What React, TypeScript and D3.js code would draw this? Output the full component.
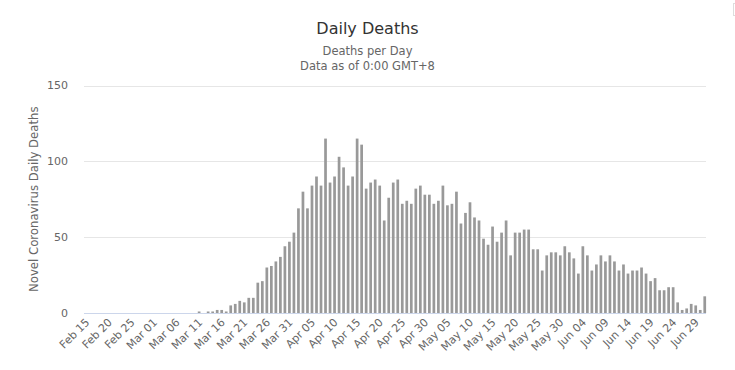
import React from "react";
import * as d3 from "d3";

// Categories: one per day, Feb 15 – Jul 1 (2020)
const startDate = new Date(2020, 1, 15);
const endDate = new Date(2020, 6, 2);
const dates: Date[] = d3.timeDay.range(startDate, endDate);

// Daily deaths
const deaths: number[] = [
  0, 0, 0, 0, 0, 0, 0, 0, 0, 0, 0, 0, 0, 0, 0, // Feb 15 - Feb 29
  0, 0, 0, 0, 0, 0, 0, 0, 0, 0, // Mar 01 - Mar 10
  1, 0, 1, 1, 2, 2, 1, 5, 6, 8, 7, 10, 10, 20, 21, 30, 31, 34, 37, 44, 47, // Mar 11 - Mar 31
  53, 69, 80, 69, 84, 90, 84, 115, 86, 90, 103, 96, 84, 90, 115, 111, 82, 86, 88, 84,
  61, 76, 86, 88, 72, 74, 72, 82, 84, 78, // Apr
  78, 72, 74, 84, 71, 72, 80, 59, 66, 73, 63, 61, 49, 45, 57, 47, 53, 61, 38, 53,
  53, 55, 55, 42, 42, 28, 38, 40, 40, 38, 44, // May
  40, 36, 26, 44, 38, 28, 32, 38, 34, 38, 34, 28, 32, 26, 28, 28, 30, 26, 21, 23,
  15, 15, 17, 17, 7, 2, 3, 6, 5, 2, // Jun
  11, // Jul 01
];

const yTicks: number[] = [0, 50, 100, 150];
const xTickEvery = 5;
const titleText = "Daily Deaths";
const subtitleLines: string[] = ["Deaths per Day", "Data as of 0:00 GMT+8"];
const yAxisTitle = "Novel Coronavirus Daily Deaths";

const FONT = "'DejaVu Sans', sans-serif";
const fmt = d3.timeFormat("%b %d");

export default function App() {
  const W = 735;
  const H = 370;
  const left = 84;
  const right = 707;
  const x = d3
    .scaleBand<number>()
    .domain(d3.range(deaths.length))
    .range([left, right])
    .paddingInner(0.4)
    .paddingOuter(0.2);
  const y = d3.scaleLinear().domain([0, 150]).range([313, 85.5]);
  const bw = x.bandwidth();

  const xTicks = d3.range(0, dates.length, xTickEvery);

  return (
    <div style={{ position: "absolute", left: 0, top: 0 }}>
      <svg width={W} height={H} style={{ display: "block", background: "#fff" }}>
        <rect x={0} y={0} width={W} height={H} fill="#ffffff" />
        {/* title */}
        <text x={W / 2} y={33.5} textAnchor="middle" fontFamily={FONT} fontSize={16} fill="#333333">
          {titleText}
        </text>
        {subtitleLines.map((s, i) => (
          <text key={s} x={W / 2} y={55 + i * 14.5} textAnchor="middle" fontFamily={FONT} fontSize={11.5} fill="#666666">
            {s}
          </text>
        ))}
        {/* gridlines */}
        {yTicks.map((t) => (
          <g key={t}>
            {t !== 0 && (
              <line x1={left} x2={right - 1} y1={Math.round(y(t)) + 0.5} y2={Math.round(y(t)) + 0.5} stroke="#e6e6e6" strokeWidth={1} />
            )}
            <text x={68} y={y(t)} dy="0.35em" textAnchor="end" fontFamily={FONT} fontSize={11} fill="#666666">
              {t}
            </text>
          </g>
        ))}
        {/* y axis title */}
        <text
          transform={`translate(38, ${(y(0) + y(150)) / 2}) rotate(-90)`}
          textAnchor="middle"
          fontFamily={FONT}
          fontSize={11.7}
          fill="#666666"
        >
          {yAxisTitle}
        </text>
        {/* bars */}
        {deaths.map((v, i) =>
          v > 0 ? (
            <rect key={i} x={x(i)!} y={y(v)} width={bw} height={y(0) - y(v)} fill="#999999" />
          ) : null
        )}
        {/* x axis line */}
        <line x1={left} x2={right - 1} y1={313.5} y2={313.5} stroke="#ccd6eb" strokeWidth={1} />
        {/* x tick labels */}
        {xTicks.map((i) => {
          const cx = x(i)! + bw / 2;
          return (
            <text
              key={i}
              transform={`translate(${cx + 4}, 323) rotate(-45)`}
              textAnchor="end"
              fontFamily={FONT}
              fontSize={11}
              fill="#666666"
            >
              {fmt(dates[i])}
            </text>
          );
        })}
        {/* context button edge */}
        <rect x={733.5} y={3.5} width={12} height={12} fill="none" stroke="#dddddd" strokeWidth={1} />
      </svg>
    </div>
  );
}
